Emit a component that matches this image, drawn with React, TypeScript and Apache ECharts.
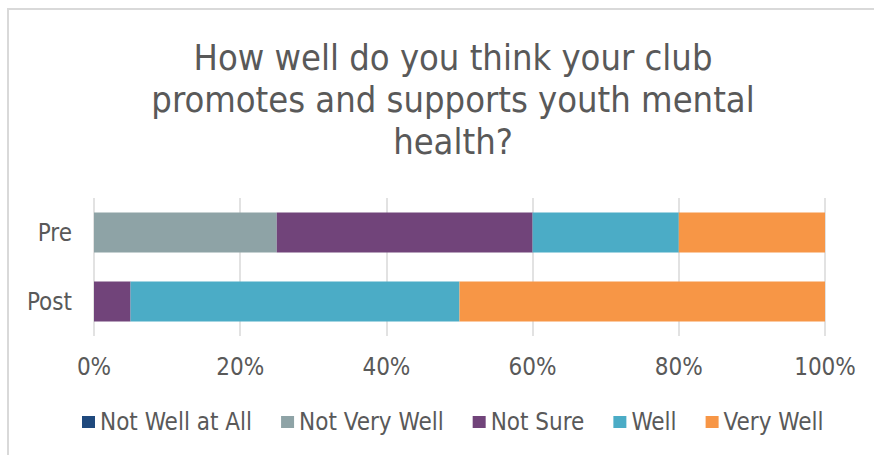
import React, { useEffect, useRef } from "react";
import * as echarts from "echarts";

const categories = ["Pre", "Post"];
const seriesNames = ["Not Well at All", "Not Very Well", "Not Sure", "Well", "Very Well"];
const notWellAtAll = [0, 0];
const notVeryWell = [25, 0];
const notSure = [35, 5];
const well = [20, 45];
const veryWell = [20, 50];
const colors = ["#1F497D", "#8EA3A6", "#71447A", "#4BACC6", "#F79646"];
const tickValues = [0, 20, 40, 60, 80, 100];

const FONT = "'DejaVu Sans Condensed', 'DejaVu Sans', sans-serif";
const TEXT = "#595959";

export default function App() {
  const ref = useRef<HTMLDivElement>(null);
  useEffect(() => {
    if (!ref.current) return;
    const chart = echarts.init(ref.current, null, { renderer: "svg" });
    const values = [notWellAtAll, notVeryWell, notSure, well, veryWell];
    chart.setOption({
      animation: false,
      title: {
        text: "How well do you think your club\npromotes and supports youth mental\nhealth?",
        left: 448,
        textAlign: "center",
        top: 31,
        textStyle: {
          fontFamily: FONT,
          fontSize: 36,
          fontWeight: "normal",
          color: TEXT,
          lineHeight: 42,
        },
      },
      legend: {
        data: seriesNames,
        left: 77,
        top: 405,
        itemWidth: 13,
        itemHeight: 12,
        itemGap: 29,
        icon: "rect",
        textStyle: { fontFamily: FONT, fontSize: 24, color: TEXT, padding: [0, 0, 0, 0] },
      },
      grid: { left: 94, right: 49, top: 198, bottom: 119, containLabel: false },
      xAxis: {
        type: "value",
        min: 0,
        max: 100,
        interval: 20,
        axisLine: { show: false },
        axisTick: { show: false },
        splitLine: { show: true, lineStyle: { color: "#d9d9d9", width: 1.5 } },
        axisLabel: {
          formatter: (v: number) => (tickValues.includes(v) ? v + "%" : ""),
          fontFamily: FONT,
          fontSize: 24,
          color: TEXT,
          margin: 19,
        },
      },
      yAxis: {
        type: "category",
        data: categories,
        inverse: true,
        axisLine: { show: false },
        axisTick: { show: false },
        axisLabel: { fontFamily: FONT, fontSize: 24, color: TEXT, margin: 22 },
      },
      series: seriesNames.map((name, i) => ({
        name,
        type: "bar",
        stack: "total",
        barWidth: "58%",
        data: values[i],
        itemStyle: { color: colors[i] },
      })),
    });
    return () => chart.dispose();
  }, []);
  return (
    <div style={{ position: "fixed", left: 0, top: 0, width: 874, height: 455, overflow: "hidden", background: "#fff" }}>
      <div
        style={{
          position: "absolute",
          left: 7,
          top: 8,
          width: 880,
          height: 460,
          borderTop: "2px solid #d9d9d9",
          borderLeft: "2px solid #d9d9d9",
          boxSizing: "border-box",
        }}
      />
      <div ref={ref} style={{ position: "absolute", left: 0, top: 0, width: 874, height: 455 }} />
    </div>
  );
}
